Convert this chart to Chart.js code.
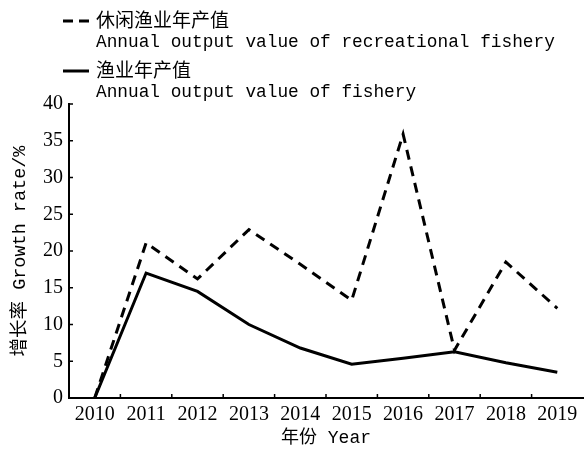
<!DOCTYPE html>
<html>
<head>
<meta charset="utf-8">
<script src="https://cdn.jsdelivr.net/npm/chart.js@4.4.1/dist/chart.umd.min.js"></script>
<style>
  html, body { margin: 0; padding: 0; background: #fff; }
  #wrap { width: 585px; height: 451px; }
</style>
</head>
<body>
<div id="wrap"><canvas id="myChart" width="585" height="451"></canvas></div>
<script>
// data
const years = ['2010', '2011', '2012', '2013', '2014', '2015', '2016', '2017', '2018', '2019'];
const recreational = [0, 21.1, 16.2, 22.9, 18.2, 13.3, 35.9, 6.5, 18.5, 12.2];
const fishery = [0, 17.0, 14.5, 10.0, 6.8, 4.6, 5.4, 6.3, 4.8, 3.5];
const yTicks = [0, 5, 10, 15, 20, 25, 30, 35, 40];

const legendItems = [
  { zh: '休闲渔业年产值', en: 'Annual output value of recreational fishery', dash: [10, 6] },
  { zh: '渔业年产值', en: 'Annual output value of fishery', dash: [] }
];

const monoCJK = '"Liberation Mono", "Noto Sans CJK SC", monospace';
const serif = '"Liberation Serif", "DejaVu Serif", serif';

// small inward tick marks + legend drawn by hand
const extras = {
  id: 'extras',
  afterDraw(chart) {
    const ctx = chart.ctx;
    const xs = chart.scales.x, ys = chart.scales.y;
    const area = chart.chartArea;
    ctx.save();
    ctx.strokeStyle = '#000';
    ctx.lineWidth = 1.5;
    ctx.beginPath();
    for (let i = 0; i < years.length - 1; i++) {
      const px = (xs.getPixelForValue(i) + xs.getPixelForValue(i + 1)) / 2;
      ctx.moveTo(px, area.bottom);
      ctx.lineTo(px, area.bottom - 4);
    }
    yTicks.forEach(v => {
      const py = ys.getPixelForValue(v);
      ctx.moveTo(area.left, py);
      ctx.lineTo(area.left + 4, py);
    });
    ctx.stroke();

    // legend
    const rows = [20, 70];
    legendItems.forEach((it, k) => {
      const y = rows[k];
      ctx.lineWidth = 3;
      ctx.setLineDash(it.dash);
      ctx.beginPath();
      ctx.moveTo(63, y + 1);
      ctx.lineTo(89, y + 1);
      ctx.stroke();
      ctx.setLineDash([]);
      ctx.fillStyle = '#000';
      ctx.textBaseline = 'middle';
      ctx.font = '19px "Noto Sans CJK SC", sans-serif';
      ctx.fillText(it.zh, 96, y);
      ctx.font = '17.8px "Liberation Mono", monospace';
      ctx.fillText(it.en, 96, y + 22);
    });
    ctx.restore();
  }
};

new Chart(document.getElementById('myChart'), {
  type: 'line',
  data: {
    labels: years,
    datasets: [
      {
        label: legendItems[0].zh,
        data: recreational,
        borderColor: '#000',
        borderWidth: 3,
        borderDash: [10, 7],
        pointRadius: 0,
        tension: 0,
        fill: false
      },
      {
        label: legendItems[1].zh,
        data: fishery,
        borderColor: '#000',
        borderWidth: 3,
        pointRadius: 0,
        tension: 0,
        fill: false
      }
    ]
  },
  options: {
    responsive: false,
    animation: false,
    layout: { padding: { top: 104, right: 2, left: 0, bottom: 0 } },
    plugins: {
      legend: { display: false },
      tooltip: { enabled: false }
    },
    scales: {
      x: {
        offset: true,
        grid: { display: true, drawOnChartArea: false, drawTicks: false, offset: true },
        border: { display: true, color: '#000', width: 2 },
        ticks: { color: '#000', padding: 5, font: { family: serif, size: 20 }, maxRotation: 0 },
        title: { display: true, text: '年份 Year', color: '#000', font: { family: monoCJK, size: 18 }, padding: { top: 0, bottom: 2 } },
        afterFit(scale) { scale.height = 53; }
      },
      y: {
        min: 0,
        max: 40,
        grid: { display: true, drawOnChartArea: false, drawTicks: false },
        border: { display: true, color: '#000', width: 2 },
        ticks: { stepSize: 5, color: '#000', padding: 6, font: { family: serif, size: 20 } },
        title: { display: true, text: '增长率 Growth rate/%', color: '#000', font: { family: monoCJK, size: 18.5 }, padding: { top: 9, bottom: 0 } },
        afterFit(scale) { scale.width = 69; }
      }
    }
  },
  plugins: [extras]
});
</script>
</body>
</html>
